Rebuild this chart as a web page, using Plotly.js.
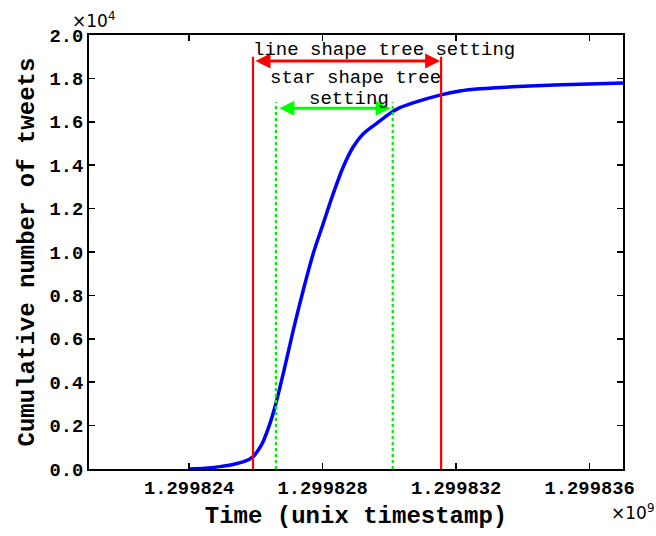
<!DOCTYPE html>
<html>
<head>
<meta charset="utf-8">
<script src="https://cdn.plot.ly/plotly-3.0.1.min.js"></script>
<style>html,body{margin:0;padding:0;background:#fff;}#chart{width:656px;height:536px;}</style>
</head>
<body>
<div id="chart"></div>
<script>
// Cumulative tweet curve (unix timestamps, counts)
const timeStamps = [1299824000, 1299824480, 1299824925, 1299825315, 1299825675, 1299825914, 1299826063, 1299826213, 1299826423, 1299826573, 1299826822, 1299827121, 1299827421, 1299827721, 1299828020, 1299828320, 1299828620, 1299828919, 1299829219, 1299829620, 1299830019, 1299830268, 1299830708, 1299831517, 1299832116, 1299832716, 1299834213, 1299835710, 1299837000];
const cumulativeTweets = [0, 30, 110, 210, 360, 560, 850, 1250, 2100, 2870, 4410, 6400, 8250, 9940, 11320, 12700, 13930, 14850, 15450, 15930, 16390, 16620, 16870, 17230, 17420, 17520, 17650, 17730, 17790];

// Setting boundaries
const lineSetting = [1299825914, 1299831550];
const starSetting = [1299826600, 1299830100];
const lineSettingTop = 19000;
const starSettingTop = 16900;
const lineArrowY = 18800;
const starArrowY = 16630;

// Ticks
const xTickVals = [1299824000, 1299828000, 1299832000, 1299836000];
const xTickText = ["1.299824", "1.299828", "1.299832", "1.299836"];
const yTickVals = [0, 2000, 4000, 6000, 8000, 10000, 12000, 14000, 16000, 18000, 20000];
const yTickText = ["0.0", "0.2", "0.4", "0.6", "0.8", "1.0", "1.2", "1.4", "1.6", "1.8", "2.0"];

const mono = "Liberation Mono, Courier New, monospace";
const tickFont = {family: mono, size: 18.8, color: "#000", weight: "bold"};

const trace = {
  x: timeStamps, y: cumulativeTweets, type: "scatter", mode: "lines",
  line: {color: "#0000ff", width: 3.5, shape: "spline", smoothing: 0.8},
  hoverinfo: "skip"
};

const shapes = [];
lineSetting.forEach(v => shapes.push({type: "line", xref: "x", yref: "y", x0: v, x1: v, y0: 0, y1: lineSettingTop, line: {color: "#ff0000", width: 2.2}}));
starSetting.forEach(v => shapes.push({type: "line", xref: "x", yref: "y", x0: v, x1: v, y0: 0, y1: starSettingTop, line: {color: "#00ee00", width: 2.2, dash: "dot"}}));

const annFont = {family: mono, size: 19, color: "#000"};
const annotations = [
  {xref: "x", yref: "y", axref: "x", ayref: "y", x: lineSetting[1], y: lineArrowY, ax: lineSetting[0], ay: lineArrowY,
   text: "", showarrow: true, arrowside: "end+start", arrowhead: 2, arrowsize: 1, arrowwidth: 3, arrowcolor: "#ff0000", standoff: 1, startstandoff: 1},
  {xref: "x", yref: "y", axref: "x", ayref: "y", x: starSetting[1], y: starArrowY, ax: starSetting[0], ay: starArrowY,
   text: "", showarrow: true, arrowside: "end+start", arrowhead: 2, arrowsize: 1, arrowwidth: 3, arrowcolor: "#00ff00", standoff: 2, startstandoff: 2},
  {xref: "paper", yref: "paper", x: (384 - 89) / 534, y: (469 - 50) / 434, text: "line shape tree setting", showarrow: false, font: annFont, xanchor: "center", yanchor: "middle"},
  {xref: "paper", yref: "paper", x: (355 - 89) / 534, y: (469 - 78) / 434, text: "star shape tree", showarrow: false, font: annFont, xanchor: "center", yanchor: "middle"},
  {xref: "paper", yref: "paper", x: (349 - 89) / 534, y: (469 - 99) / 434, text: "setting", showarrow: false, font: annFont, xanchor: "center", yanchor: "middle"},
  {xref: "paper", yref: "paper", x: (93 - 89) / 534, y: (469 - 20) / 434, text: "×10<sup>4</sup>", showarrow: false, font: {family: "DejaVu Sans", size: 17, color: "#000"}, xanchor: "center", yanchor: "middle"},
  {xref: "paper", yref: "paper", x: (632 - 89) / 534, y: (469 - 512) / 434, text: "×10<sup>9</sup>", showarrow: false, font: {family: "DejaVu Sans", size: 17, color: "#000"}, xanchor: "center", yanchor: "middle"}
];

const layout = {
  width: 656, height: 536,
  margin: {l: 89, r: 33, t: 35, b: 67},
  paper_bgcolor: "#fff", plot_bgcolor: "#fff",
  showlegend: false,
  xaxis: {
    range: [1299821000, 1299837000], tickvals: xTickVals, ticktext: xTickText,
    ticks: "inside", ticklen: 6, tickwidth: 1.5, tickcolor: "#000",
    showline: true, linecolor: "#000", linewidth: 2, mirror: "ticks",
    showgrid: false, zeroline: false, tickfont: tickFont,
    title: {text: "Time (unix timestamp)", font: {family: mono, size: 24, color: "#000", weight: "bold"}, standoff: 8}
  },
  yaxis: {
    range: [0, 20000], tickvals: yTickVals, ticktext: yTickText,
    ticks: "inside", ticklen: 6, tickwidth: 1.5, tickcolor: "#000",
    showline: true, linecolor: "#000", linewidth: 2, mirror: "ticks",
    showgrid: false, zeroline: false, tickfont: tickFont,
    title: {text: "Cumulative number of tweets", font: {family: mono, size: 24, color: "#000", weight: "bold"}, standoff: 8}
  },
  shapes: shapes,
  annotations: annotations
};

Plotly.newPlot("chart", [trace], layout, {displayModeBar: false, staticPlot: true});
</script>
</body>
</html>
